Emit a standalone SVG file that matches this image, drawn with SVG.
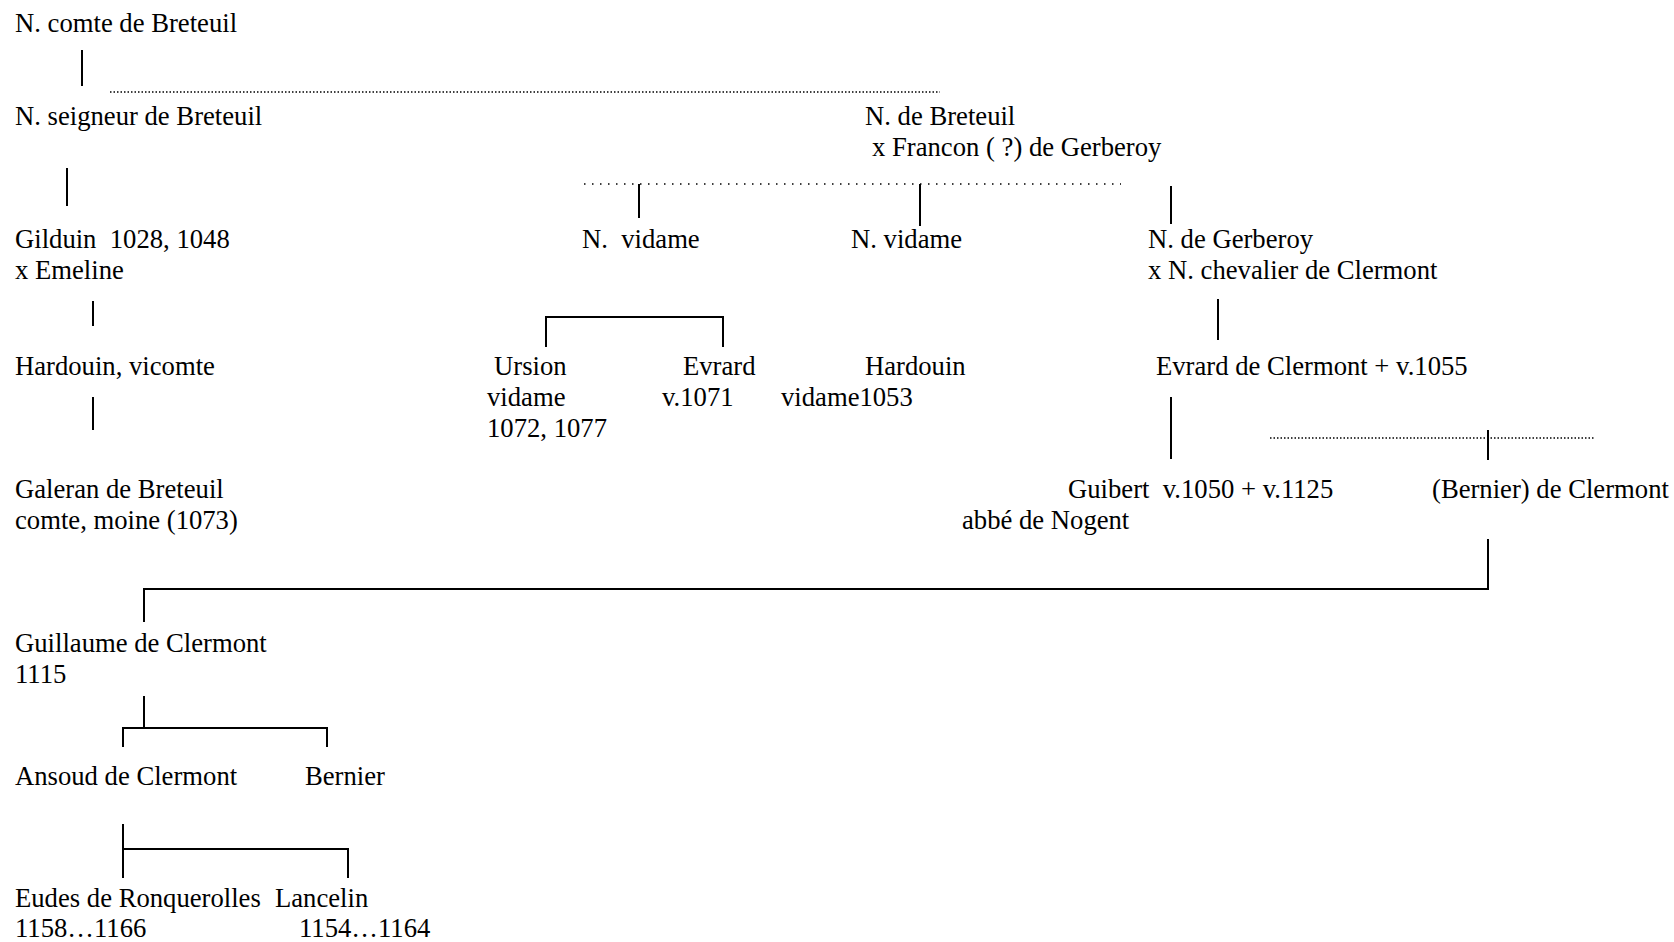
<svg xmlns="http://www.w3.org/2000/svg" width="1674" height="942" viewBox="0 0 1674 942">
<style>
text{font-family:"Liberation Serif","Times New Roman",serif;font-size:26.67px;fill:#000;white-space:pre}
.s{stroke:#000;stroke-width:2;fill:none}
.d{stroke:#000;stroke-width:1.5;stroke-dasharray:1.5 2;fill:none}
.d2{stroke:#000;stroke-width:1.5;stroke-dasharray:1.5 6.5;fill:none}
</style>
<rect width="1674" height="942" fill="#fff"/>
<g id="connectors">
<line class="s" x1="82" y1="50" x2="82" y2="86"/>
<line class="d" x1="110" y1="92" x2="940" y2="92"/>
<line class="s" x1="67" y1="168" x2="67" y2="206"/>
<line class="d2" x1="584" y1="184" x2="1121" y2="184"/>
<line class="s" x1="639" y1="184" x2="639" y2="218"/>
<line class="s" x1="920" y1="184" x2="920" y2="226"/>
<line class="s" x1="1171" y1="186" x2="1171" y2="224"/>
<line class="s" x1="93" y1="301" x2="93" y2="326"/>
<polyline class="s" points="546,347 546,317 723,317 723,347"/>
<line class="s" x1="1218" y1="299" x2="1218" y2="340"/>
<line class="s" x1="93" y1="397" x2="93" y2="430"/>
<line class="s" x1="1171" y1="397" x2="1171" y2="459"/>
<line class="d" x1="1270" y1="438" x2="1594" y2="438"/>
<line class="s" x1="1488" y1="430" x2="1488" y2="460"/>
<polyline class="s" points="1488,539 1488,589 144,589 144,622"/>
<line class="s" x1="144" y1="696" x2="144" y2="728"/>
<polyline class="s" points="123,747 123,728 327,728 327,747"/>
<line class="s" x1="123" y1="824" x2="123" y2="878"/>
<polyline class="s" points="123,849 348,849 348,878"/>
</g>
<g id="n-comte"><text x="15" y="32">N. comte de Breteuil</text></g>
<g id="n-seigneur"><text x="15" y="125">N. seigneur de Breteuil</text></g>
<g id="n-de-breteuil"><text x="865" y="125">N. de Breteuil</text><text x="872" y="156">x Francon ( ?) de Gerberoy</text></g>
<g id="gilduin"><text x="15" y="248">Gilduin  1028, 1048</text><text x="15" y="279">x Emeline</text></g>
<g id="vidame1"><text x="582" y="248">N.  vidame</text></g>
<g id="vidame2"><text x="851" y="248">N. vidame</text></g>
<g id="n-gerberoy"><text x="1148" y="248">N. de Gerberoy</text><text x="1148" y="279">x N. chevalier de Clermont</text></g>
<g id="hardouin-vicomte"><text x="15" y="375">Hardouin, vicomte</text></g>
<g id="ursion"><text x="494" y="375">Ursion</text><text x="487" y="406">vidame</text><text x="487" y="437">1072, 1077</text></g>
<g id="evrard"><text x="683" y="375">Evrard</text><text x="662" y="406">v.1071</text></g>
<g id="hardouin"><text x="865" y="375">Hardouin</text><text x="781" y="406">vidame1053</text></g>
<g id="evrard-clermont"><text x="1156" y="375">Evrard de Clermont + v.1055</text></g>
<g id="galeran"><text x="15" y="498">Galeran de Breteuil</text><text x="15" y="529">comte, moine (1073)</text></g>
<g id="guibert"><text x="1068" y="498">Guibert  v.1050 + v.1125</text><text x="962" y="529">abbé de Nogent</text></g>
<g id="bernier-clermont"><text x="1432" y="498">(Bernier) de Clermont</text></g>
<g id="guillaume"><text x="15" y="652">Guillaume de Clermont</text><text x="15" y="683">1115</text></g>
<g id="ansoud"><text x="15" y="785">Ansoud de Clermont</text></g>
<g id="bernier"><text x="305" y="785">Bernier</text></g>
<g id="eudes"><text x="15" y="907">Eudes de Ronquerolles</text><text x="15" y="937">1158…1166</text></g>
<g id="lancelin"><text x="275" y="907">Lancelin</text><text x="299" y="937">1154…1164</text></g>
</svg>
